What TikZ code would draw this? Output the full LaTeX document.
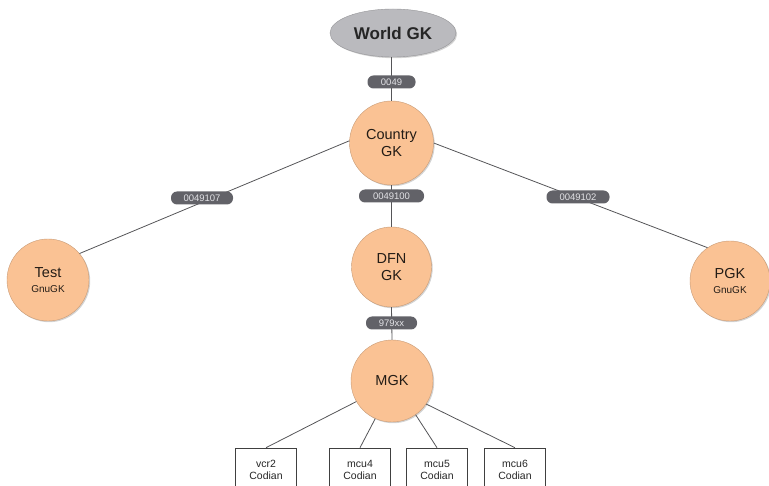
\documentclass[tikz,border=0pt]{standalone}
\usepackage{fontspec}
\setmainfont{Liberation Sans}
\usetikzlibrary{shapes.geometric,shadows}
\definecolor{peach}{RGB}{250,194,148}
\definecolor{gkgray}{RGB}{186,186,190}
\definecolor{labgray}{RGB}{98,98,104}
\definecolor{labtext}{RGB}{226,226,230}
\definecolor{linegray}{RGB}{85,85,88}
\definecolor{txtdark}{RGB}{35,28,22}
\tikzset{
  gk/.style={circle, fill=peach, draw=peach!80!black, line width=0.4pt,
    minimum size=#1, inner sep=0pt, align=center, text=txtdark,
    font=\fontsize{14.5}{16.5}\selectfont,
    drop shadow={shadow xshift=1.2pt, shadow yshift=-1.2pt, opacity=0.35}},
  gk/.default=82pt,
  world/.style={ellipse, fill=gkgray, draw=gkgray!80!black, line width=0.4pt,
    minimum width=126pt, minimum height=48pt, inner sep=0pt,
    font=\bfseries\fontsize{17}{19}\selectfont, text=black!85,
    drop shadow={shadow xshift=1.2pt, shadow yshift=-1.2pt, opacity=0.35}},
  lab/.style={rounded corners=6pt, fill=labgray, text=labtext, inner sep=0pt,
    minimum height=13pt, font=\fontsize{9.5}{10}\selectfont},
  dev/.style={draw=black!75, line width=0.6pt, fill=white, minimum width=61pt,
    minimum height=44pt, align=center, inner sep=0pt,
    font=\fontsize{10.5}{12.5}\selectfont, text=black!85},
  conn/.style={draw=linegray, line width=0.8pt},
  subt/.style={font=\fontsize{10}{11}\selectfont}
}
\newcommand{\subtxt}[1]{{\fontsize{10}{11}\selectfont #1}}
\begin{document}
\begin{tikzpicture}[x=1pt,y=-1pt]
\useasboundingbox (0,0) rectangle (769,486);
\clip (0,0) rectangle (769,486);
% nodes
\node[world] (world) at (393,33) {World GK};
\node[gk=84pt] (country) at (391.5,143) {Country\\GK};
\node[gk=80pt] (dfn) at (391.5,267) {DFN\\GK};
\node[gk=82pt] (mgk) at (392,381) {MGK};
\node[gk=82pt] (test) at (48,280) {Test\\[-1pt]\subtxt{GnuGK}};
\node[gk=80pt] (pgk) at (730,281) {PGK\\[-1pt]\subtxt{GnuGK}};
\node[dev] (vcr2) at (266,470) {vcr2\\Codian};
\node[dev] (mcu4) at (360,470) {mcu4\\Codian};
\node[dev] (mcu5) at (437,470) {mcu5\\Codian};
\node[dev] (mcu6) at (515,470) {mcu6\\Codian};
% connectors
\draw[conn] (world.south -| country.north) -- (country.north);
\draw[conn] (country.south) -- (dfn.north);
\draw[conn] (dfn.south) -- (mgk.north);
\draw[conn] (country.177) -- (test.40);
\draw[conn] (country.0) -- (pgk.124);
\draw[conn] (mgk.210) -- (vcr2.north);
\draw[conn] (mgk.246) -- (mcu4.north);
\draw[conn] (mgk.305) -- (mcu5.north);
\draw[conn] (mgk.326) -- (mcu6.north);
% labels on the connectors
\node[lab, minimum width=48pt] (l0049) at (391.5,82) {0049};
\node[lab, minimum width=65pt] (l100) at (391.5,196) {0049100};
\node[lab, minimum width=62pt] (l107) at (202,198) {0049107};
\node[lab, minimum width=63pt] (l102) at (578,197) {0049102};
\node[lab, minimum width=51pt] (l979) at (391.5,323) {979xx};
\end{tikzpicture}
\end{document}
